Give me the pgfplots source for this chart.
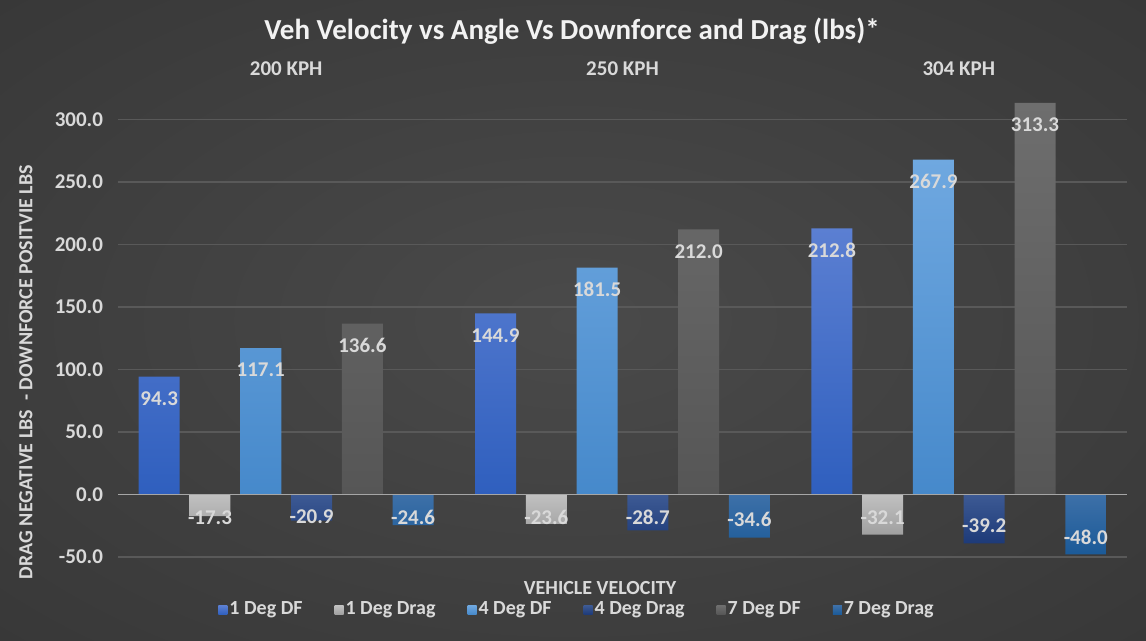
\documentclass[border=0pt]{standalone}
\usepackage{fontspec}
\setmainfont{Carlito}
\usepackage{pgfplots}
\usepackage{pgfplotstable}
\pgfplotsset{compat=1.18}

\definecolor{bgin}{HTML}{4A4A4A}
\definecolor{bgout}{HTML}{262626}
\definecolor{txt}{HTML}{D9D9D9}
\definecolor{ttl}{HTML}{F2F2F2}
\definecolor{gridc}{HTML}{595959}
\definecolor{zeroc}{HTML}{A6A6A6}
\definecolor{aT}{HTML}{5B7FD2}\definecolor{aB}{HTML}{2F5FBE}
\definecolor{bT}{HTML}{C0C0C0}\definecolor{bB}{HTML}{A0A0A0}
\definecolor{cT}{HTML}{6FA8E0}\definecolor{cB}{HTML}{4689CB}
\definecolor{dT}{HTML}{3D5A94}\definecolor{dB}{HTML}{1D3A78}
\definecolor{eT}{HTML}{6E6E6E}\definecolor{eB}{HTML}{565656}
\definecolor{fT}{HTML}{3D70A8}\definecolor{fB}{HTML}{1B5A98}

\pgfdeclareradialshading{bgshade}{\pgfpoint{0bp}{0bp}}{color(0bp)=(bgin); color(71bp)=(bgout)}

\pgfplotstableread{
x y ls
0 94.3 -11
1 144.9 -11
2 212.8 -11
}\oneDF
\pgfplotstableread{
x y ls
0 -17.3 -0.7
1 -23.6 3.25
2 -32.1 8.5
}\oneDrag
\pgfplotstableread{
x y ls
0 117.1 -11
1 181.5 -11
2 267.9 -11
}\fourDF
\pgfplotstableread{
x y ls
0 -20.9 2.05
1 -28.7 6.45
2 -39.2 9
}\fourDrag
\pgfplotstableread{
x y ls
0 136.6 -11
1 212.0 -11
2 313.3 -11
}\sevenDF
\pgfplotstableread{
x y ls
0 -24.6 3.9
1 -34.6 9
2 -48.0 8.5
}\sevenDrag

\begin{document}
\begin{tikzpicture}
\path[shading=bgshade] (0,0) rectangle (573pt,320.5pt);
\useasboundingbox (0,0) rectangle (573pt,320.5pt);
\node[font=\bfseries\fontsize{14.5}{16}\selectfont, text=ttl] at (286pt,305pt) {Veh Velocity vs Angle Vs Downforce and Drag (lbs)*};
\node[font=\bfseries\fontsize{10}{12}\selectfont, text=txt, rotate=90] at (13pt,134.5pt) {DRAG NEGATIVE LBS \ - DOWNFORCE POSITVIE LBS};
\node[font=\bfseries\fontsize{10}{12}\selectfont, text=txt, inner sep=0pt] at (300pt,26.5pt) {VEHICLE VELOCITY};
\begin{axis}[
  at={(59pt,42pt)}, anchor=south west,
  scale only axis, width=504.5pt, height=250pt,
  xmin=-0.5, xmax=2.5, ymin=-50, ymax=350,
  axis line style={draw=none},
  major tick length=0pt,
  xtick=\empty,
  ytick={-50,0,50,100,150,200,250,300},
  ymajorgrids,
  grid style={color=gridc, line width=0.75pt},
  /pgf/number format/assume math mode=true,
  yticklabel={\pgfmathprintnumber[fixed,fixed zerofill,precision=1]{\tick}},
  yticklabel style={font=\bfseries\fontsize{10.5}{12}\selectfont, text=txt, xshift=-4pt},
  nodes near coords={\pgfmathprintnumber[fixed,fixed zerofill,precision=1,assume math mode=true]{\pgfplotspointmeta}},
  every node near coord/.append style={font=\bfseries\fontsize{10.5}{12}\selectfont, text=txt, anchor=center},
  visualization depends on={\thisrow{ls} \as \lshift},
  nodes near coords style={yshift=\lshift pt},
  legend style={at={(0.455,-0.106)}, anchor=center, draw=none, fill=none, inner sep=0pt,
    font=\bfseries\fontsize{10}{12}\selectfont, text=txt, legend columns=6,
    nodes={inner sep=1pt},
    /tikz/every even column/.append style={column sep=15pt}},
  legend cell align=left,
  legend image code/.code={\path[#1, draw=none] (0pt,-2.25pt) rectangle (4.5pt,2.25pt);},
]
\addplot[ybar, bar width=20.5pt, bar shift=0pt, draw=none, top color=aT, bottom color=aB] table[x expr=\thisrow{x}-0.3775, y=y] {\oneDF};
\addlegendentry{1 Deg DF}
\addplot[ybar, bar width=20.5pt, bar shift=0pt, draw=none, top color=bT, bottom color=bB] table[x expr=\thisrow{x}-0.2265, y=y] {\oneDrag};
\addlegendentry{1 Deg Drag}
\addplot[ybar, bar width=20.5pt, bar shift=0pt, draw=none, top color=cT, bottom color=cB] table[x expr=\thisrow{x}-0.0755, y=y] {\fourDF};
\addlegendentry{4 Deg DF}
\addplot[ybar, bar width=20.5pt, bar shift=0pt, draw=none, top color=dT, bottom color=dB] table[x expr=\thisrow{x}+0.0755, y=y] {\fourDrag};
\addlegendentry{4 Deg Drag}
\addplot[ybar, bar width=20.5pt, bar shift=0pt, draw=none, top color=eT, bottom color=eB] table[x expr=\thisrow{x}+0.2265, y=y] {\sevenDF};
\addlegendentry{7 Deg DF}
\addplot[ybar, bar width=20.5pt, bar shift=0pt, draw=none, top color=fT, bottom color=fB] table[x expr=\thisrow{x}+0.3775, y=y] {\sevenDrag};
\addlegendentry{7 Deg Drag}
\draw[zeroc, line width=0.8pt] (axis cs:-0.5,0) -- (axis cs:2.5,0);
\node[font=\bfseries\fontsize{10.5}{12}\selectfont, text=txt] at (axis cs:0,341) {200 KPH};
\node[font=\bfseries\fontsize{10.5}{12}\selectfont, text=txt] at (axis cs:1,341) {250 KPH};
\node[font=\bfseries\fontsize{10.5}{12}\selectfont, text=txt] at (axis cs:2,341) {304 KPH};
\end{axis}
\end{tikzpicture}
\end{document}
